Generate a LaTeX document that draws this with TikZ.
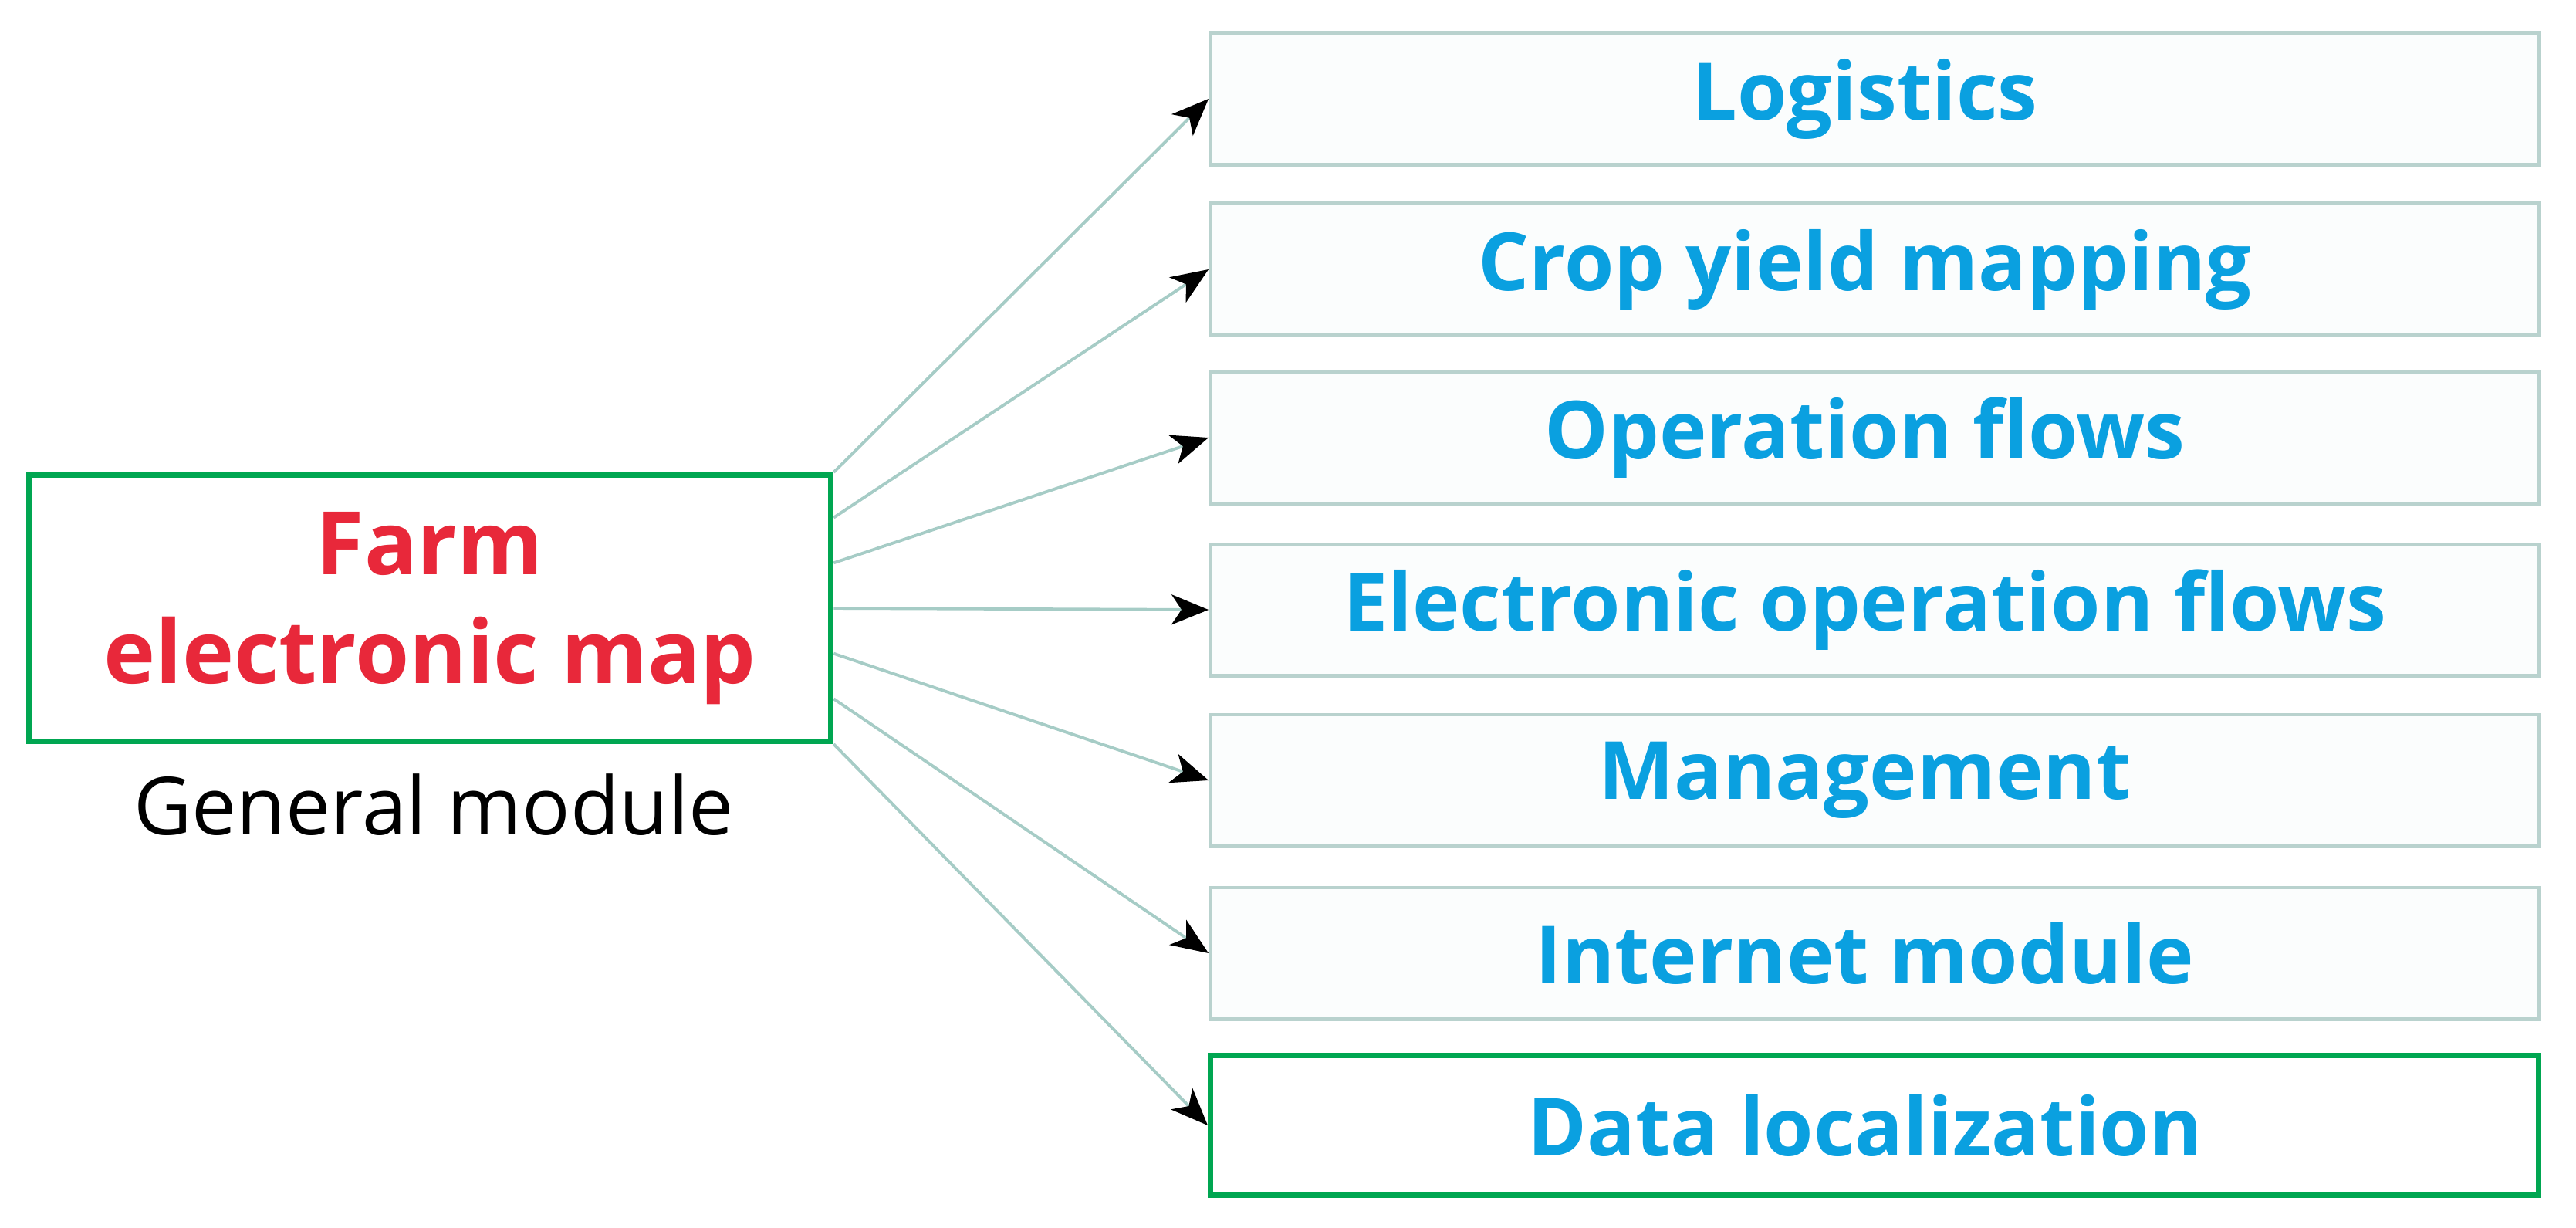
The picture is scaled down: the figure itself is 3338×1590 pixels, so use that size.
\documentclass[tikz,border=0pt]{standalone}
\usepackage{fontspec}
\setmainfont{Open Sans}
\usetikzlibrary{arrows.meta,calc}
\definecolor{tblue}{HTML}{0AA0E0}
\definecolor{tred}{HTML}{E8283A}
\definecolor{tgreen}{HTML}{00A651}
\definecolor{tgrey}{HTML}{B9D2CE}
\definecolor{tline}{HTML}{A6CCC6}
\definecolor{tfill}{HTML}{FBFDFD}
\begin{document}
\begin{tikzpicture}[x=0.01cm,y=-0.01cm,
  srcbox/.style={draw=tgreen,line width=2pt,fill=white,minimum width=10.39cm,minimum height=3.45cm,inner sep=0pt,align=center,
    font=\fontsize{32.3}{40}\selectfont\bfseries,text=tred},
  itembox/.style={draw=tgrey,line width=1.4pt,fill=tfill,minimum width=17.2cm,minimum height=1.7cm,inner sep=0pt,
    font=\fontsize{29.6}{33}\selectfont\bfseries,text=tblue},
  greenitem/.style={itembox,draw=tgreen,line width=2pt,fill=white,minimum height=1.8cm},
  caption/.style={font=\fontsize{29.5}{34}\selectfont,text=black,inner sep=0pt},
  conn/.style={draw=tline,line width=1.1pt,-{Stealth[length=4.8mm,width=3.9mm,inset=1.3mm,fill=black,color=black]}}
]
\useasboundingbox[fill=white] (0,0) rectangle (3338,1590);
\node[srcbox] (src) at (557,788) {Farm\\electronic map};
\node[caption] (cap) at (562,1043) {General module};
\node[itembox] (b1) at (2429,128) {Logistics\hspace*{0.25cm}};
\node[itembox] (b2) at (2429,349) {Crop yield mapping\hspace*{0.25cm}};
\node[itembox] (b3) at (2429,567) {Operation flows\hspace*{0.25cm}};
\node[itembox] (b4) at (2429,790) {Electronic operation flows\hspace*{0.25cm}};
\node[itembox] (b5) at (2429,1011) {Management\hspace*{0.25cm}};
\node[itembox] (b6) at (2429,1235) {Internet module\hspace*{0.25cm}};
\node[greenitem] (b7) at (2429,1458) {Data localization\hspace*{0.25cm}};
\foreach \k in {1,...,7}{
  \coordinate (s\k) at ($(src.north east)!{(\k-1)/6}!(src.south east)$);
  \draw[conn] (s\k) -- (b\k.west);
}
\end{tikzpicture}
\end{document}
